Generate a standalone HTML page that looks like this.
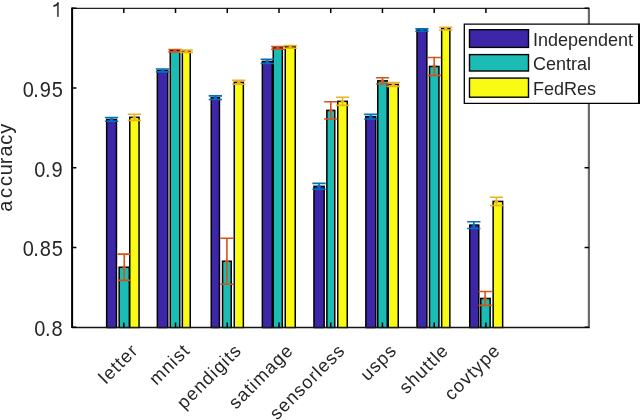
<!DOCTYPE html><html><head><meta charset="utf-8"><style>html,body{margin:0;padding:0;background:#fff;width:640px;height:420px;overflow:hidden}svg{display:block;will-change:transform;filter:blur(0.35px)}text{font-family:"Liberation Sans",sans-serif;fill:#262626}</style></head><body>
<svg width="640" height="420" viewBox="0 0 640 420">
<rect x="0" y="0" width="640" height="420" fill="#fff"/>
<rect x="105.90" y="118.65" width="11.30" height="209.55" fill="#000"/>
<rect x="107.40" y="120.15" width="8.30" height="208.05" fill="#3e26a8"/>
<rect x="118.40" y="266.50" width="11.70" height="61.70" fill="#000"/>
<rect x="119.90" y="268.00" width="8.70" height="60.20" fill="#1bbcb3"/>
<rect x="129.00" y="116.58" width="10.80" height="211.62" fill="#000"/>
<rect x="130.50" y="118.08" width="7.80" height="210.12" fill="#f9fb15"/>
<rect x="156.60" y="69.70" width="11.90" height="258.50" fill="#000"/>
<rect x="158.10" y="71.20" width="8.90" height="257.00" fill="#3e26a8"/>
<rect x="169.50" y="49.95" width="11.00" height="278.25" fill="#000"/>
<rect x="171.00" y="51.45" width="8.00" height="276.75" fill="#1bbcb3"/>
<rect x="181.60" y="50.45" width="9.40" height="277.75" fill="#000"/>
<rect x="183.10" y="51.95" width="6.40" height="276.25" fill="#f9fb15"/>
<rect x="210.50" y="96.95" width="9.70" height="231.25" fill="#000"/>
<rect x="212.00" y="98.45" width="6.70" height="229.75" fill="#3e26a8"/>
<rect x="221.80" y="260.50" width="10.20" height="67.70" fill="#000"/>
<rect x="223.30" y="262.00" width="7.20" height="66.20" fill="#1bbcb3"/>
<rect x="233.50" y="81.60" width="10.60" height="246.60" fill="#000"/>
<rect x="235.00" y="83.10" width="7.60" height="245.10" fill="#f9fb15"/>
<rect x="261.60" y="60.65" width="11.40" height="267.55" fill="#000"/>
<rect x="263.10" y="62.15" width="8.40" height="266.05" fill="#3e26a8"/>
<rect x="272.50" y="47.15" width="10.60" height="281.05" fill="#000"/>
<rect x="274.00" y="48.65" width="7.60" height="279.55" fill="#1bbcb3"/>
<rect x="284.50" y="46.15" width="11.50" height="282.05" fill="#000"/>
<rect x="286.00" y="47.65" width="8.50" height="280.55" fill="#f9fb15"/>
<rect x="313.20" y="185.60" width="11.70" height="142.60" fill="#000"/>
<rect x="314.70" y="187.10" width="8.70" height="141.10" fill="#3e26a8"/>
<rect x="326.10" y="109.65" width="9.40" height="218.55" fill="#000"/>
<rect x="327.60" y="111.15" width="6.40" height="217.05" fill="#1bbcb3"/>
<rect x="337.00" y="100.60" width="11.00" height="227.60" fill="#000"/>
<rect x="338.50" y="102.10" width="8.00" height="226.10" fill="#f9fb15"/>
<rect x="365.10" y="115.95" width="11.40" height="212.25" fill="#000"/>
<rect x="366.60" y="117.45" width="8.40" height="210.75" fill="#3e26a8"/>
<rect x="377.00" y="80.10" width="11.00" height="248.10" fill="#000"/>
<rect x="378.50" y="81.60" width="8.00" height="246.60" fill="#1bbcb3"/>
<rect x="387.50" y="83.70" width="11.50" height="244.50" fill="#000"/>
<rect x="389.00" y="85.20" width="8.50" height="243.00" fill="#f9fb15"/>
<rect x="416.25" y="29.25" width="11.35" height="298.95" fill="#000"/>
<rect x="417.75" y="30.75" width="8.35" height="297.45" fill="#3e26a8"/>
<rect x="428.75" y="65.70" width="10.95" height="262.50" fill="#000"/>
<rect x="430.25" y="67.20" width="7.95" height="261.00" fill="#1bbcb3"/>
<rect x="440.90" y="27.85" width="9.70" height="300.35" fill="#000"/>
<rect x="442.40" y="29.35" width="6.70" height="298.85" fill="#f9fb15"/>
<rect x="469.00" y="224.35" width="10.50" height="103.85" fill="#000"/>
<rect x="470.50" y="225.85" width="7.50" height="102.35" fill="#3e26a8"/>
<rect x="480.00" y="297.70" width="10.90" height="30.50" fill="#000"/>
<rect x="481.50" y="299.20" width="7.90" height="29.00" fill="#1bbcb3"/>
<rect x="492.40" y="200.65" width="11.00" height="127.55" fill="#000"/>
<rect x="493.90" y="202.15" width="8.00" height="126.05" fill="#f9fb15"/>
<path d="M104.90 117.50H118.20M104.90 121.30H118.20M111.55 117.50V121.30" stroke="#0072bd" stroke-width="1.6" fill="none"/>
<circle cx="111.55" cy="119.40" r="1.7" fill="#0072bd"/>
<path d="M117.60 254.10H130.90M117.60 280.40H130.90M124.25 254.10V280.40" stroke="#d95319" stroke-width="1.6" fill="none"/>
<circle cx="124.25" cy="267.25" r="1.7" fill="#d95319"/>
<path d="M127.75 114.25H141.05M127.75 120.40H141.05M134.40 114.25V120.40" stroke="#edb120" stroke-width="1.6" fill="none"/>
<circle cx="134.40" cy="117.33" r="1.7" fill="#edb120"/>
<path d="M155.90 69.00H169.20M155.90 71.90H169.20M162.55 69.00V71.90" stroke="#0072bd" stroke-width="1.6" fill="none"/>
<circle cx="162.55" cy="70.45" r="1.7" fill="#0072bd"/>
<path d="M168.35 49.50H181.65M168.35 51.90H181.65M175.00 49.50V51.90" stroke="#d95319" stroke-width="1.6" fill="none"/>
<circle cx="175.00" cy="50.70" r="1.7" fill="#d95319"/>
<path d="M179.65 50.00H192.95M179.65 52.40H192.95M186.30 50.00V52.40" stroke="#edb120" stroke-width="1.6" fill="none"/>
<circle cx="186.30" cy="51.20" r="1.7" fill="#edb120"/>
<path d="M208.70 95.90H222.00M208.70 99.50H222.00M215.35 95.90V99.50" stroke="#0072bd" stroke-width="1.6" fill="none"/>
<circle cx="215.35" cy="97.70" r="1.7" fill="#0072bd"/>
<path d="M220.25 238.30H233.55M220.25 284.20H233.55M226.90 238.30V284.20" stroke="#d95319" stroke-width="1.6" fill="none"/>
<circle cx="226.90" cy="261.25" r="1.7" fill="#d95319"/>
<path d="M232.15 80.40H245.45M232.15 84.30H245.45M238.80 80.40V84.30" stroke="#edb120" stroke-width="1.6" fill="none"/>
<circle cx="238.80" cy="82.35" r="1.7" fill="#edb120"/>
<path d="M260.65 59.30H273.95M260.65 63.50H273.95M267.30 59.30V63.50" stroke="#0072bd" stroke-width="1.6" fill="none"/>
<circle cx="267.30" cy="61.40" r="1.7" fill="#0072bd"/>
<path d="M271.15 46.50H284.45M271.15 49.30H284.45M277.80 46.50V49.30" stroke="#d95319" stroke-width="1.6" fill="none"/>
<circle cx="277.80" cy="47.90" r="1.7" fill="#d95319"/>
<path d="M283.60 45.50H296.90M283.60 48.30H296.90M290.25 45.50V48.30" stroke="#edb120" stroke-width="1.6" fill="none"/>
<circle cx="290.25" cy="46.90" r="1.7" fill="#edb120"/>
<path d="M312.40 183.40H325.70M312.40 189.30H325.70M319.05 183.40V189.30" stroke="#0072bd" stroke-width="1.6" fill="none"/>
<circle cx="319.05" cy="186.35" r="1.7" fill="#0072bd"/>
<path d="M324.15 101.80H337.45M324.15 119.00H337.45M330.80 101.80V119.00" stroke="#d95319" stroke-width="1.6" fill="none"/>
<circle cx="330.80" cy="110.40" r="1.7" fill="#d95319"/>
<path d="M335.85 97.30H349.15M335.85 105.40H349.15M342.50 97.30V105.40" stroke="#edb120" stroke-width="1.6" fill="none"/>
<circle cx="342.50" cy="101.35" r="1.7" fill="#edb120"/>
<path d="M364.15 114.40H377.45M364.15 119.00H377.45M370.80 114.40V119.00" stroke="#0072bd" stroke-width="1.6" fill="none"/>
<circle cx="370.80" cy="116.70" r="1.7" fill="#0072bd"/>
<path d="M375.85 77.70H389.15M375.85 84.00H389.15M382.50 77.70V84.00" stroke="#d95319" stroke-width="1.6" fill="none"/>
<circle cx="382.50" cy="80.85" r="1.7" fill="#d95319"/>
<path d="M386.60 82.50H399.90M386.60 86.40H399.90M393.25 82.50V86.40" stroke="#edb120" stroke-width="1.6" fill="none"/>
<circle cx="393.25" cy="84.45" r="1.7" fill="#edb120"/>
<path d="M415.28 28.75H428.57M415.28 31.25H428.57M421.93 28.75V31.25" stroke="#0072bd" stroke-width="1.6" fill="none"/>
<circle cx="421.93" cy="30.00" r="1.7" fill="#0072bd"/>
<path d="M427.58 57.50H440.88M427.58 75.40H440.88M434.23 57.50V75.40" stroke="#d95319" stroke-width="1.6" fill="none"/>
<circle cx="434.23" cy="66.45" r="1.7" fill="#d95319"/>
<path d="M439.10 27.20H452.40M439.10 30.00H452.40M445.75 27.20V30.00" stroke="#edb120" stroke-width="1.6" fill="none"/>
<circle cx="445.75" cy="28.60" r="1.7" fill="#edb120"/>
<path d="M467.15 221.70H480.45M467.15 228.50H480.45M473.80 221.70V228.50" stroke="#0072bd" stroke-width="1.6" fill="none"/>
<circle cx="473.80" cy="225.10" r="1.7" fill="#0072bd"/>
<path d="M478.45 291.50H491.75M478.45 305.40H491.75M485.10 291.50V305.40" stroke="#d95319" stroke-width="1.6" fill="none"/>
<circle cx="485.10" cy="298.45" r="1.7" fill="#d95319"/>
<path d="M489.75 197.30H503.05M489.75 205.50H503.05M496.40 197.30V205.50" stroke="#edb120" stroke-width="1.6" fill="none"/>
<circle cx="496.40" cy="201.40" r="1.7" fill="#edb120"/>
<path d="M72.10 7.50V327.90" fill="none" stroke="#000" stroke-width="2"/>
<path d="M72.10 8.40H588.90" fill="none" stroke="#222" stroke-width="1.4"/>
<path d="M72.10 327.50H589.90" fill="none" stroke="#151515" stroke-width="1.4"/>
<path d="M588.90 7.70V326.80" fill="none" stroke="#6a6a6a" stroke-width="2.2"/>
<path d="M72.10 8.20H76.40M588.90 8.20H584.60M72.10 87.95H76.40M588.90 87.95H584.60M72.10 167.70H76.40M588.90 167.70H584.60M72.10 247.45H76.40M588.90 247.45H584.60M72.10 327.20H76.40M588.90 327.20H584.60M123.80 327.20V322.40M123.80 8.20V13.00M175.53 327.20V322.40M175.53 8.20V13.00M227.26 327.20V322.40M227.26 8.20V13.00M278.99 327.20V322.40M278.99 8.20V13.00M330.72 327.20V322.40M330.72 8.20V13.00M382.45 327.20V322.40M382.45 8.20V13.00M434.18 327.20V322.40M434.18 8.20V13.00M485.91 327.20V322.40M485.91 8.20V13.00" stroke="#000" stroke-width="1.5" fill="none"/>
<path d="M57.9 2.6V16.8" stroke="#555" stroke-width="1.9" fill="none"/>
<path d="M58.4 2.6C57.4 4.5 55.6 5.7 53.3 6.2" stroke="#222" stroke-width="1.5" fill="none"/>
<text x="22.75 33.15 39.75 51.75" y="0.00" font-size="20" transform="translate(0,96.95) scale(1,1.1) translate(0,0.00)">0.95</text>
<text x="34.35 45.05 51.45" y="0.00" font-size="20" transform="translate(0,176.70) scale(1,1.1) translate(0,0.00)">0.9</text>
<text x="22.75 33.15 39.75 51.75" y="0.00" font-size="20" transform="translate(0,256.45) scale(1,1.1) translate(0,0.00)">0.85</text>
<text x="34.35 45.05 51.45" y="0.00" font-size="20" transform="translate(0,336.20) scale(1,1.1) translate(0,0.00)">0.8</text>
<text transform="translate(11.5,210.8) rotate(-90)" font-size="20" x="-0.84 12.86 24.76 35.60 46.58 54.26 66.16 77.06" y="0">accuracy</text>
<text transform="translate(139.30,351.5) rotate(-45)" font-size="18.3" text-anchor="end" letter-spacing="1.05">letter</text>
<text transform="translate(191.03,351.5) rotate(-45)" font-size="18.3" text-anchor="end" letter-spacing="1.05">mnist</text>
<text transform="translate(242.76,351.5) rotate(-45)" font-size="18.3" text-anchor="end" letter-spacing="1.05">pendigits</text>
<text transform="translate(294.49,351.5) rotate(-45)" font-size="18.3" text-anchor="end" letter-spacing="1.05">satimage</text>
<text transform="translate(346.22,351.5) rotate(-45)" font-size="18.3" text-anchor="end" letter-spacing="1.05">sensorless</text>
<text transform="translate(397.95,351.5) rotate(-45)" font-size="18.3" text-anchor="end" letter-spacing="1.05">usps</text>
<text transform="translate(449.68,351.5) rotate(-45)" font-size="18.3" text-anchor="end" letter-spacing="1.05">shuttle</text>
<text transform="translate(501.41,351.5) rotate(-45)" font-size="18.3" text-anchor="end" letter-spacing="1.05">covtype</text>
<rect x="464.3" y="24.3" width="175.7" height="79" fill="#fff"/>
<path d="M640 24.2H464.3V103.3H640" fill="none" stroke="#000" stroke-width="1.3"/>
<path d="M639 24.2V103.3" fill="none" stroke="#000" stroke-width="2"/>
<rect x="469.5" y="29.70" width="59" height="17.70" fill="#3e26a8" stroke="#000" stroke-width="1.4"/>
<text x="533" y="0" font-size="18" transform="translate(0,45.50) scale(1,1.07)">Independent</text>
<rect x="469.5" y="54.60" width="59" height="16.40" fill="#1bbcb3" stroke="#000" stroke-width="1.4"/>
<text x="533" y="0" font-size="18" transform="translate(0,69.60) scale(1,1.07)">Central</text>
<rect x="469.5" y="78.10" width="59" height="19.10" fill="#f9fb15" stroke="#000" stroke-width="1.4"/>
<text x="533" y="0" font-size="18" transform="translate(0,94.60) scale(1,1.07)">FedRes</text>
</svg></body></html>
